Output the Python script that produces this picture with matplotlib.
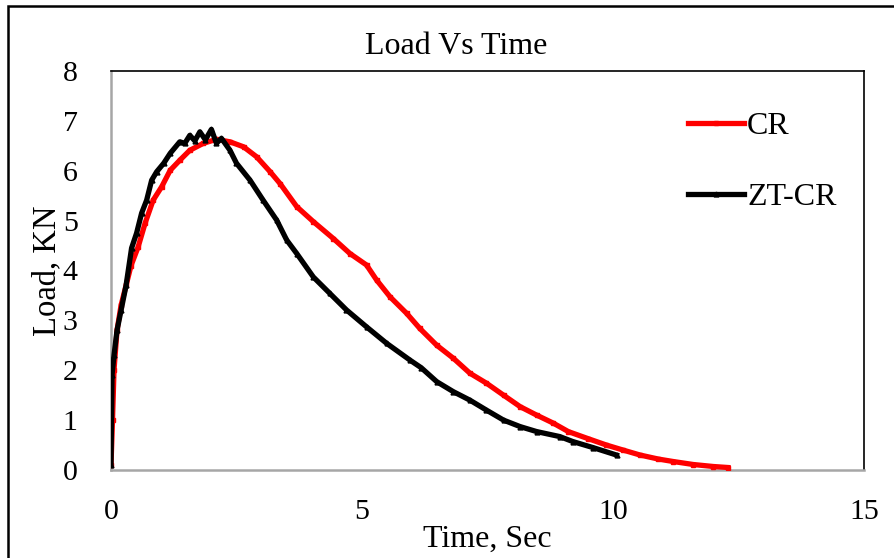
import matplotlib
matplotlib.use("Agg")
import matplotlib.pyplot as plt
from matplotlib.patches import Rectangle

plt.rcParams['font.family'] = ['Liberation Serif', 'DejaVu Serif']

# Data
cr_time = [0, 0.03, 0.06, 0.12, 0.2, 0.3, 0.4, 0.54, 0.68, 0.84, 1.01, 1.18, 1.37,
           1.57, 1.84, 2.1, 2.37, 2.64, 2.9, 3.17, 3.37, 3.70, 4.03, 4.43, 4.76,
           5.09, 5.29, 5.56, 5.89, 6.15, 6.49, 6.82, 7.15, 7.48, 7.82, 8.15, 8.48,
           8.81, 9.11, 9.5, 9.87, 10.2, 10.54, 10.9, 11.2, 11.6, 12.0, 12.29]
cr_load = [0.1, 1.0, 2.0, 2.8, 3.3, 3.7, 4.1, 4.47, 4.95, 5.41, 5.68, 6.01, 6.21,
           6.41, 6.55, 6.63, 6.58, 6.48, 6.28, 5.98, 5.74, 5.28, 4.98, 4.64, 4.34,
           4.11, 3.81, 3.47, 3.14, 2.84, 2.5, 2.24, 1.94, 1.74, 1.50, 1.27, 1.10,
           0.94, 0.77, 0.63, 0.5, 0.4, 0.3, 0.22, 0.17, 0.11, 0.07, 0.05]

zt_time = [0, 0.02, 0.06, 0.12, 0.2, 0.3, 0.41, 0.51, 0.61, 0.71, 0.81, 0.91, 1.05,
           1.18, 1.37, 1.47, 1.57, 1.67, 1.77, 1.88, 2.0, 2.1, 2.2, 2.37, 2.5, 2.77,
           3.03, 3.3, 3.5, 3.70, 4.03, 4.36, 4.69, 5.09, 5.49, 5.96, 6.18, 6.49,
           6.82, 7.15, 7.48, 7.82, 8.15, 8.48, 8.94, 9.2, 9.6, 10.07]
zt_load = [0.1, 1.9, 2.3, 2.8, 3.2, 3.7, 4.45, 4.75, 5.15, 5.41, 5.81, 5.98, 6.15,
           6.35, 6.58, 6.55, 6.71, 6.6, 6.78, 6.62, 6.83, 6.55, 6.65, 6.41, 6.15,
           5.81, 5.41, 5.01, 4.61, 4.34, 3.87, 3.54, 3.21, 2.87, 2.54, 2.2, 2.05,
           1.77, 1.57, 1.40, 1.20, 1.0, 0.87, 0.77, 0.67, 0.57, 0.45, 0.30]

x_ticks = [0, 5, 10, 15]
y_ticks = [0, 1, 2, 3, 4, 5, 6, 7, 8]

W, H = 895, 558
fig = plt.figure(figsize=(W / 100, H / 100), dpi=100)
ax = fig.add_axes([111 / W, 1 - 470 / H, (864 - 111) / W, (470 - 71) / H])

ax.plot(cr_time, cr_load, color='#FF0000', lw=3.8, marker='s', ms=3.5,
        label='CR', zorder=3)
ax.plot(zt_time, zt_load, color='black', lw=3.8, marker='^', ms=3.5,
        label='ZT-CR', zorder=4)

ax.set_xlim(0, 15)
ax.set_ylim(0, 8)
ax.set_xticks(x_ticks)
ax.set_yticks(y_ticks)
ax.tick_params(axis='both', length=0, labelsize=21.5)
ax.tick_params(axis='x', pad=21)
ax.tick_params(axis='y', pad=24)

for s in ['top', 'right']:
    ax.spines[s].set_color('black')
    ax.spines[s].set_linewidth(1.2)
for s in ['left', 'bottom']:
    ax.spines[s].set_color('#A6A6A6')
    ax.spines[s].set_linewidth(1.8)

fig.text(456 / W, 1 - 46 / H, 'Load Vs Time', fontsize=23,
         ha='center', va='center')
ax.set_xlabel('Time, Sec', fontsize=23, labelpad=0)
ax.set_ylabel('Load, KN', fontsize=23.5, labelpad=0)

leg = ax.legend(loc='upper left', bbox_to_anchor=((688 - 111) / 753, (470 - 112) / 399),
                frameon=False, fontsize=23, handlelength=1.75, handletextpad=0.1,
                labelspacing=1.3, borderaxespad=0, borderpad=0)

# Outer chart frame
fig.patches.append(Rectangle((8 / W, -0.1), 1.2, 1 - 6 / H + 0.1,
                             transform=fig.transFigure, fill=False,
                             ec='black', lw=1.8, clip_on=False))

fig.savefig('out.png', dpi=100)
